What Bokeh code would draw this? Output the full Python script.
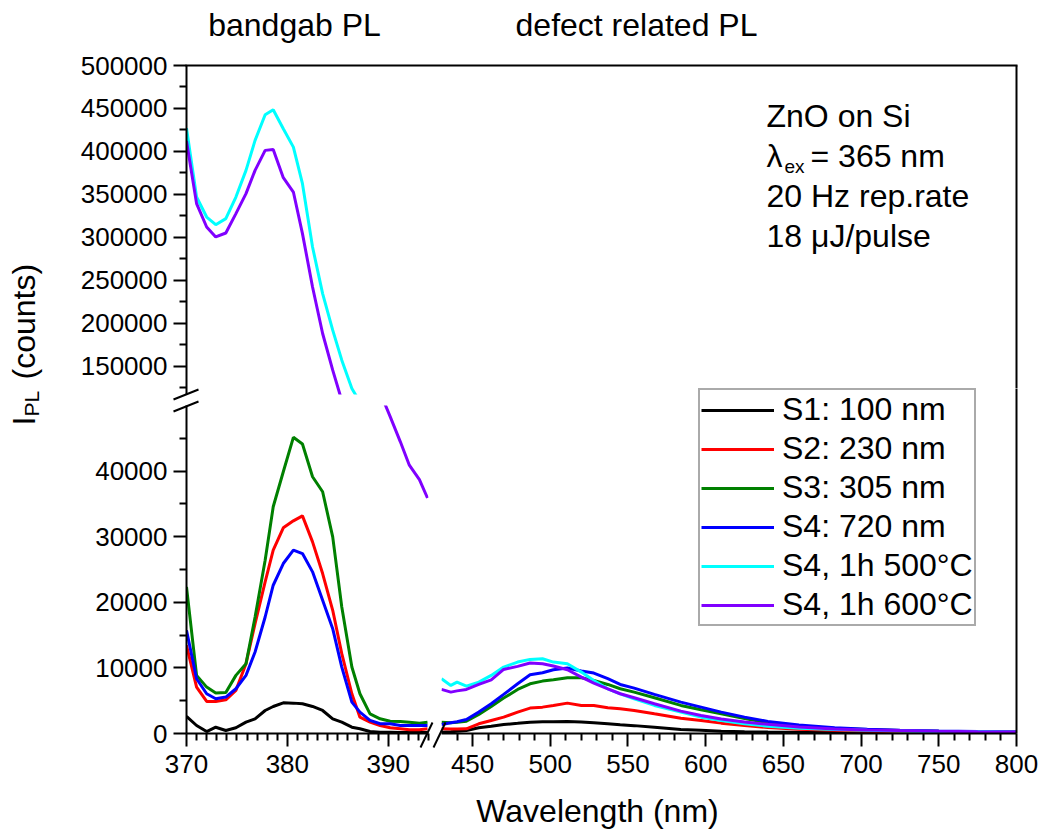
from math import pi
from bokeh.plotting import figure
from bokeh.models import (Range1d, LinearAxis, FixedTicker, BasicTickFormatter,
                          Label, Legend, LegendItem, Arrow, GridBox)
from bokeh.layouts import column
from bokeh.embed import file_html
from bokeh.resources import INLINE

# ---------------- data ----------------
series_names = ["S1: 100 nm", "S2: 230 nm", "S3: 305 nm", "S4: 720 nm",
                "S4, 1h 500\u00b0C", "S4, 1h 600\u00b0C"]
series_colors = ["#000000", "#FF0000", "#008000", "#0000FF", "#00FFFF", "#8000FF"]

wl_bandgap = [370.0, 371.0, 372.0, 372.9, 373.9, 374.9, 375.9, 376.8, 377.8, 378.6,
              379.6, 380.6, 381.5, 382.5, 383.5, 384.5, 385.4, 386.4, 387.2, 388.2,
              389.2, 390.2, 391.2, 392.1, 393.1, 393.9]
s1_bandgap = [2600, 1220, 300, 960, 460, 870, 1730, 2240, 3510, 4120, 4680, 4630, 4530,
              4120, 3510, 2240, 1730, 960, 720, 300, 200, 200, 150, 150, 150, 150]
s2_bandgap = [13440, 7070, 4890, 4890, 5140, 6570, 10640, 16750, 23110, 27940, 31350,
              32420, 33180, 29210, 24380, 18780, 12170, 6060, 2490, 1730, 1220, 870,
              720, 560, 560, 720]
s3_bandgap = [22340, 8860, 7070, 6160, 6260, 8860, 10640, 17760, 26400, 34560, 39900,
              45150, 44130, 39140, 36850, 29980, 19290, 10130, 6060, 3000, 2240, 1880,
              1830, 1730, 1580, 1730]
s4_bandgap = [15730, 8350, 6060, 5290, 5550, 6820, 8860, 12420, 17760, 22600, 25910,
              27940, 27430, 24640, 20310, 15980, 10130, 4780, 3260, 1990, 1480, 1480,
              1220, 1220, 1220, 1220]
s4_500_bandgap = [427000, 346900, 323600, 314700, 321700, 346900, 377900, 412800,
                  442600, 448500, 426400, 405000, 362400, 288700, 234500, 191900,
                  157000, 124100, 108000, 90000, 78000, 70000, 64000, 60000, 57000, 54000]
s4_600_bandgap = [412000, 339200, 312000, 300400, 305000, 327600, 350800, 377900,
                  401200, 402300, 369400, 352700, 304300, 242200, 188000, 145300,
                  110000, 85000, 68000, 57000, 52000, 48300, 44500, 40900, 38700, 35900]

wl_defect = [430, 436, 440, 446, 454, 462, 470, 479, 487, 495, 502, 511, 520, 528, 537,
             545, 554, 567, 584, 597, 610, 625, 640, 660, 683, 704, 725, 750, 775, 800]
s1_defect = [200, 250, 350, 460, 870, 1100, 1370, 1550, 1730, 1780, 1800, 1830, 1750,
             1630, 1480, 1330, 1200, 960, 620, 500, 350, 280, 230, 200, 180, 160, 150,
             140, 130, 120]
s2_defect = [710, 700, 700, 710, 1480, 1990, 2490, 3260, 3870, 4020, 4280, 4630, 4280,
             4280, 3920, 3770, 3510, 3000, 2340, 1990, 1580, 1200, 900, 650, 480, 380,
             320, 260, 220, 200]
s3_defect = [1730, 1630, 1700, 1880, 2900, 4120, 5400, 6720, 7580, 7990, 8190, 8500,
             8500, 8090, 7480, 6820, 6310, 5450, 4280, 3610, 3000, 2300, 1650, 1150,
             780, 600, 470, 360, 280, 220]
s4_defect = [1370, 1650, 1800, 2140, 3260, 4530, 5960, 7580, 8960, 9260, 9720, 9980,
             9520, 9210, 8350, 7480, 6920, 5960, 4780, 4020, 3260, 2500, 1850, 1300,
             870, 650, 500, 380, 300, 230]
s4_500_defect = [8350, 7330, 7840, 7230, 7840, 8860, 10130, 10890, 11300, 11400, 10890,
                 10640, 9360, 8090, 6820, 6050, 5290, 4280, 3260, 2490, 1990, 1500,
                 1100, 800, 600, 480, 400, 300, 250, 200]
s4_600_defect = [6720, 6310, 6500, 6720, 7480, 8190, 9770, 10230, 10740, 10640, 10280,
                 9720, 8600, 7690, 6820, 6060, 5450, 4530, 3410, 2750, 2200, 1750, 1400,
                 1000, 700, 550, 450, 350, 280, 220]

bandgap_series = [s1_bandgap, s2_bandgap, s3_bandgap, s4_bandgap, s4_500_bandgap, s4_600_bandgap]
defect_series = [s1_defect, s2_defect, s3_defect, s4_defect, s4_500_defect, s4_600_defect]

# axis segments and ticks
x_bandgap_range = (370, 394)
x_defect_range = (430, 800)
y_upper_range = (117000, 500000)
y_lower_range = (0, 50000)
y_lower_range_right = (0, 52600)   # same scale, frame reaches a bit higher (legend room)
x_bandgap_ticks = [370, 380, 390]
x_bandgap_minor = [v for v in range(371, 395) if v not in x_bandgap_ticks]
x_defect_ticks = [450, 500, 550, 600, 650, 700, 750, 800]
x_defect_minor = [v for v in range(440, 800, 10) if v not in x_defect_ticks]
y_upper_ticks = [150000, 200000, 250000, 300000, 350000, 400000, 450000, 500000]
y_upper_minor = [125000, 175000, 225000, 275000, 325000, 375000, 425000, 475000]
y_lower_ticks = [0, 10000, 20000, 30000, 40000]
y_lower_minor = [5000, 15000, 25000, 35000, 45000]

FONT = "Liberation Sans"
W, H = 1039, 832


def panel(w, h, xr, yr, left, right, top, bottom):
    p = figure(width=w, height=h, x_range=Range1d(*xr), y_range=Range1d(*yr),
               x_axis_type=None, y_axis_type=None, title=None,
               toolbar_location=None, output_backend="svg",
               min_border_left=left, min_border_right=right,
               min_border_top=top, min_border_bottom=bottom)
    p.outline_line_color = None
    p.background_fill_color = "white"
    p.border_fill_color = "white"
    return p


def tick_axis(major, minor, standoff):
    ax = LinearAxis(ticker=FixedTicker(ticks=major, minor_ticks=minor),
                    formatter=BasicTickFormatter(use_scientific=False))
    ax.axis_line_width = 2
    ax.axis_line_color = "black"
    ax.major_tick_line_width = 2
    ax.minor_tick_line_width = 2
    ax.major_tick_line_color = "black"
    ax.minor_tick_line_color = "black"
    ax.major_tick_in = 0
    ax.major_tick_out = 13
    ax.minor_tick_in = 0
    ax.minor_tick_out = 7
    ax.major_label_standoff = standoff
    ax.major_label_text_font = FONT
    ax.major_label_text_font_size = "26px"
    ax.major_label_text_color = "black"
    return ax


def frame_axis():
    ax = LinearAxis(ticker=FixedTicker(ticks=[], minor_ticks=[]))
    ax.axis_line_width = 2
    ax.axis_line_color = "black"
    ax.major_tick_in = 0
    ax.major_tick_out = 0
    ax.minor_tick_in = 0
    ax.minor_tick_out = 0
    ax.major_label_text_font_size = "0px"
    return ax


def text(p, x, y, s, size, angle=0.0, align="left"):
    p.add_layout(Label(x=x, y=y, x_units="screen", y_units="screen", text=s,
                       text_font=FONT, text_font_size=size, text_color="black",
                       angle=angle, text_align=align, text_baseline="alphabetic"))


def stroke(p, x0, y0, x1, y1):
    p.add_layout(Arrow(x_start=x0, y_start=y0, x_end=x1, y_end=y1,
                       start_units="screen", end_units="screen",
                       start=None, end=None, line_width=2, line_color="black"))


# panels: top-left, bottom-left, top-right, bottom-right
tl = panel(434, 398, x_bandgap_range, y_upper_range, 186, 6, 65, 4)
bl = panel(434, 434, x_bandgap_range, y_lower_range, 186, 6, 7, 99)
tr = panel(605, 388, x_defect_range, y_upper_range, 7, 23, 65, 0)
br = panel(605, 444, x_defect_range, y_lower_range_right, 7, 23, 0, 99)

tl.add_layout(tick_axis(y_upper_ticks, y_upper_minor, 6), "left")
bl.add_layout(tick_axis(y_lower_ticks, y_lower_minor, 6), "left")
bl.add_layout(tick_axis(x_bandgap_ticks, x_bandgap_minor, 8), "below")
tr.add_layout(frame_axis(), "right")
br.add_layout(tick_axis(x_defect_ticks, x_defect_minor, 8), "below")
br.add_layout(frame_axis(), "right")

items = []
for name, col, ybg, ydf in zip(series_names, series_colors, bandgap_series, defect_series):
    tl.line(wl_bandgap, ybg, line_color=col, line_width=3)
    bl.line(wl_bandgap, ybg, line_color=col, line_width=3)
    tr.line(wl_defect, ydf, line_color=col, line_width=3)
    r = br.line(wl_defect, ydf, line_color=col, line_width=3)
    items.append(LegendItem(label=name, renderers=[r]))

legend = Legend(items=items, location=(257, 107), margin=0, padding=1, spacing=2,
                glyph_width=73, glyph_height=30, label_height=30, label_standoff=8,
                label_text_font=FONT, label_text_font_size="32px",
                label_text_color="black", border_line_color="#555555",
                border_line_width=2, background_fill_color="white",
                background_fill_alpha=1.0)
br.add_layout(legend)

# info text (inside top-right frame)
text(tr, 325, 273, "ZnO on Si", "32px")
text(tr, 325, 233, "\u03bb", "32px")
text(tr, 343, 222, "ex", "19px")
text(tr, 369, 233, "= 365 nm", "32px")
text(tr, 325, 193, "20 Hz rep.rate", "32px")
text(tr, 325, 153, "18 \u03bcJ/pulse", "32px")

# transparent overlay over the whole page for texts and marks outside the frames
ov = figure(width=W, height=H, x_range=Range1d(0, 1), y_range=Range1d(0, 1),
            x_axis_type=None, y_axis_type=None, title=None,
            toolbar_location=None, output_backend="svg", min_border=0)
ov.outline_line_color = None
ov.background_fill_alpha = 0
ov.border_fill_alpha = 0

# top frame line (continuous across the x break)
stroke(ov, 185, 767, 1017, 767)
# y-axis break marks
stroke(ov, 173, 433, 198, 443)
stroke(ov, 173, 421, 198, 431)
# x-axis break marks
stroke(ov, 420, 85, 432, 110)
stroke(ov, 433, 85, 445, 110)

text(ov, 294, 808, "bandgab PL", "32px", align="center")
text(ov, 636, 808, "defect related PL", "32px", align="center")
text(ov, 597, 22, "Wavelength (nm)", "32px", align="center")
text(ov, 23, 407, "I", "32px", angle=pi / 2)
text(ov, 31, 416, "PL", "21px", angle=pi / 2)
text(ov, 23, 453, "(counts)", "32px", angle=pi / 2)

layout = GridBox(children=[(column(tl, bl), 0, 0), (column(tr, br), 0, 1),
                           (ov, 0, 0, 1, 2)])
open("out.html", "w").write(file_html(layout, INLINE))
